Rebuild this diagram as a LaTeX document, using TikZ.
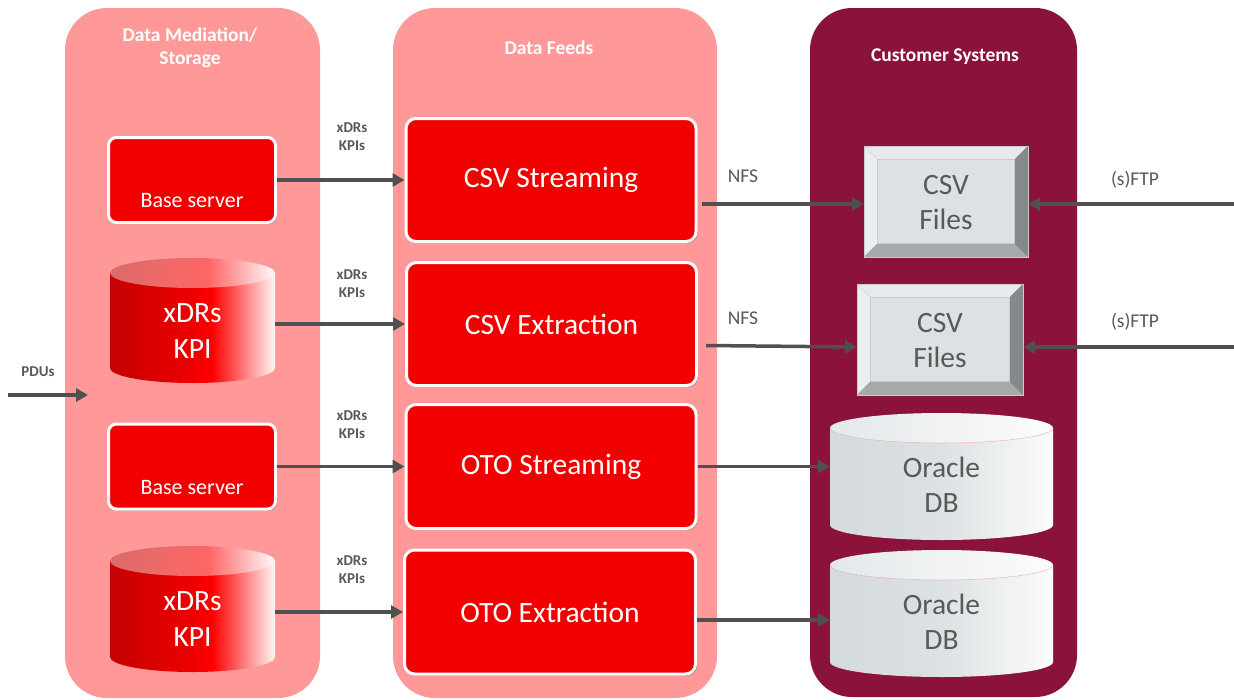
\documentclass[tikz,border=0pt]{standalone}
\usepackage{fontspec}
\setmainfont{Carlito}
\usetikzlibrary{arrows.meta,shadows,calc}
\definecolor{pnk}{RGB}{255,153,153}
\definecolor{maroonc}{RGB}{139,19,58}
\definecolor{boxred}{RGB}{242,0,0}
\definecolor{arr}{RGB}{80,80,80}
\definecolor{txtgray}{RGB}{89,89,89}
\definecolor{rcA}{RGB}{196,0,0}
\definecolor{rcB}{RGB}{238,0,0}
\definecolor{rcC}{RGB}{255,0,0}
\definecolor{rcD}{RGB}{255,246,246}
\definecolor{rtA}{RGB}{218,108,108}
\definecolor{rtB}{RGB}{255,102,102}
\definecolor{rtC}{RGB}{255,250,250}
\definecolor{ocA}{RGB}{212,218,221}
\definecolor{ocB}{RGB}{220,225,227}
\definecolor{ocC}{RGB}{252,252,252}
\definecolor{otA}{RGB}{228,232,234}
\definecolor{otB}{RGB}{252,252,252}
\definecolor{bvface}{RGB}{220,225,227}
\definecolor{bvtop}{RGB}{230,234,236}
\definecolor{bvleft}{RGB}{236,239,240}
\definecolor{bvright}{RGB}{132,137,137}
\definecolor{bvbot}{RGB}{166,170,170}
\definecolor{bvline}{RGB}{205,200,208}
\pgfdeclarehorizontalshading{redbody}{100bp}{color(0bp)=(rcA); color(25bp)=(rcA); color(50bp)=(rcB); color(56bp)=(rcC); color(75bp)=(rcD); color(100bp)=(rcD)}
\pgfdeclarehorizontalshading{redtop}{100bp}{color(0bp)=(rtA); color(25bp)=(rtA); color(55bp)=(rtB); color(75bp)=(rtC); color(100bp)=(rtC)}
\pgfdeclarehorizontalshading{orabody}{100bp}{color(0bp)=(ocA); color(25bp)=(ocA); color(50bp)=(ocB); color(75bp)=(ocC); color(100bp)=(ocC)}
\pgfdeclarehorizontalshading{oratop}{100bp}{color(0bp)=(otA); color(25bp)=(otA); color(75bp)=(otB); color(100bp)=(otB)}
% cylinder: cx, top, bottom, rx, body shading, top shading
\newcommand\mycyl[6]{%
  \shade[shading=#5] (#1-#4,#2+15) -- (#1-#4,#3-15) arc[start angle=180,end angle=360,x radius=#4pt,y radius=15pt] -- (#1+#4,#2+15) -- cycle;
  \shade[shading=#6] (#1,#2+15) ellipse[x radius=#4pt,y radius=15pt];
}
% bevel box: x1,y1,x2,y2
\newcommand\mybevel[4]{%
  \fill[bvface] (#1+13.5,#2+13.5) rectangle (#3-13.5,#4-13.5);
  \fill[bvtop] (#1,#2) -- (#3,#2) -- (#3-13.5,#2+13.5) -- (#1+13.5,#2+13.5) -- cycle;
  \fill[bvleft] (#1,#2) -- (#1+13.5,#2+13.5) -- (#1+13.5,#4-13.5) -- (#1,#4) -- cycle;
  \fill[bvright] (#3,#2) -- (#3,#4) -- (#3-13.5,#4-13.5) -- (#3-13.5,#2+13.5) -- cycle;
  \fill[bvbot] (#1,#4) -- (#3,#4) -- (#3-13.5,#4-13.5) -- (#1+13.5,#4-13.5) -- cycle;
  \draw[bvline,line width=0.6pt] (#1,#2) rectangle (#3,#4) (#1+13.5,#2+13.5) rectangle (#3-13.5,#4-13.5);
}
\begin{document}
\begin{tikzpicture}[x=1pt,y=-1pt,
  panel/.style={rounded corners=42pt},
  bigbox/.style={draw=white, line width=3pt, fill=boxred, rounded corners=10pt,
    drop shadow={shadow xshift=1.5pt, shadow yshift=-1.5pt, opacity=0.35, fill=black},
    text=white, font=\fontsize{29.5}{34}\selectfont, inner sep=0pt},
  smallbox/.style={draw=white, line width=3pt, fill=boxred, rounded corners=8pt,
    drop shadow={shadow xshift=1.5pt, shadow yshift=-1.5pt, opacity=0.35, fill=black},
    inner sep=0pt, minimum width=167pt, minimum height=85pt},
  shape holder/.style={inner sep=0pt, align=center},
  head/.style={text=white, font=\bfseries\fontsize{19.5}{23}\selectfont, align=center},
  flowlab/.style={text=txtgray, font=\bfseries\fontsize{15}{18}\selectfont, align=center},
  netlab/.style={text=txtgray, font=\fontsize{19.5}{23}\selectfont},
  bigtxt/.style={font=\fontsize{29.5}{35}\selectfont, align=center},
  conn/.style={draw=arr, line width=3.5pt, -{Triangle[length=12pt,width=13pt]}}
]
\useasboundingbox (0,0) rectangle (1234,699);
\fill[white] (0,0) rectangle (1234,699);
% panels
\fill[pnk,panel] (65,8) rectangle (320,698);
\fill[pnk,panel] (393,8) rectangle (717,698);
\fill[maroonc,panel] (810,8) rectangle (1077,697);
% headers
\node[head] (h1) at (190,47.5) {Data Mediation/\\Storage};
\node[head] (h2) at (549,48) {Data Feeds};
\node[head] (h3) at (945,57) {Customer Systems};
% base servers
\node[smallbox] (base1) at (192,180) {};
\node[text=white, font=\fontsize{22}{25}\selectfont] (bt1) at ([yshift=23pt]base1.south) {Base server};
\node[smallbox] (base2) at (192,466.5) {};
\node[text=white, font=\fontsize{22}{25}\selectfont] (bt2) at ([yshift=23pt]base2.south) {Base server};
% red cylinders
\mycyl{192.5}{258}{383}{82.5}{redbody}{redtop}
\node[shape holder, minimum width=165pt, minimum height=125pt] (cyl1) at (192.5,320.5) {};
\node[text=white, bigtxt, font=\fontsize{29.5}{36}\selectfont] (ct1) at (192.5,331) {xDRs\\KPI};
\mycyl{192.5}{546}{672}{82.5}{redbody}{redtop}
\node[shape holder, minimum width=165pt, minimum height=126pt] (cyl2) at (192.5,609) {};
\node[text=white, bigtxt, font=\fontsize{29.5}{36}\selectfont] (ct2) at (192.5,619) {xDRs\\KPI};
% data feed boxes
\node[bigbox, minimum width=290pt, minimum height=123pt] (csvs) at (551,180) {CSV Streaming};
\node[bigbox, minimum width=290pt, minimum height=123pt] (csve) at (551.5,324) {CSV Extraction};
\node[bigbox, minimum width=290pt, minimum height=124pt] (otos) at (551,466.5) {OTO Streaming};
\node[bigbox, minimum width=291pt, minimum height=124pt] (otoe) at (550,612) {OTO Extraction};
% CSV files
\mybevel{864}{146}{1028}{257}
\node[shape holder, minimum width=164pt, minimum height=111pt] (files1) at (946,201.5) {};
\node[text=txtgray, bigtxt] (ft1) at (946,203) {CSV\\Files};
\mybevel{857}{284}{1023}{395}
\node[shape holder, minimum width=166pt, minimum height=111pt] (files2) at (940,339.5) {};
\node[text=txtgray, bigtxt] (ft2) at (940,341) {CSV\\Files};
% Oracle DBs
\mycyl{941.5}{413}{540}{111.5}{orabody}{oratop}
\draw[rtA!60, line width=0.5pt, dash pattern=on 3pt off 1pt] (941.5-111.5,428) arc[start angle=180,end angle=360,x radius=111.5pt,y radius=15pt];
\node[shape holder, minimum width=223pt, minimum height=127pt] (ora1) at (941.5,476.5) {};
\node[text=txtgray, bigtxt] (ot1) at (941.5,485) {Oracle\\DB};
\mycyl{941.5}{550}{677}{111.5}{orabody}{oratop}
\draw[rtA!60, line width=0.5pt, dash pattern=on 3pt off 1pt] (941.5-111.5,565) arc[start angle=180,end angle=360,x radius=111.5pt,y radius=15pt];
\node[shape holder, minimum width=223pt, minimum height=127pt] (ora2) at (941.5,613.5) {};
\node[text=txtgray, bigtxt] (ot2) at (941.5,622) {Oracle\\DB};
% labels
\node[flowlab] (l1) at (352,137) {xDRs\\KPIs};
\node[flowlab] (l2) at (352,284) {xDRs\\KPIs};
\node[flowlab] (l3) at (352,425) {xDRs\\KPIs};
\node[flowlab] (l4) at (352,570) {xDRs\\KPIs};
\node[netlab] (n1) at (743,176) {NFS};
\node[netlab] (n2) at (743,318) {NFS};
\node[netlab] (f1) at (1135,180) {(s)FTP};
\node[netlab] (f2) at (1135,322) {(s)FTP};
\node[flowlab] (pdu) at (38,372) {PDUs};
% coordinates for free ends
\coordinate (pduA) at (8,395);
\coordinate (pduB) at (88,395);
\coordinate (ftpA) at (1234,204);
\coordinate (ftpB) at (1234,347);
% connectors
\draw[conn] (pduA) -- (pduB);
\draw[conn] (base1.east) -- (base1.east -| csvs.west);
\draw[conn] (csve.west -| cyl1.east) -- (csve.west);
\draw[conn] (base2.east) -- (base2.east -| otos.west);
\draw[conn] (otoe.west -| cyl2.east) -- (otoe.west);
\draw[conn] ($(csvs.east |- files1.west)+(4,2.5)$) -- ($(files1.west)+(0,2.5)$);
\draw[conn] ($(csve.east |- files2.west)+(8,6)$) -- ($(files2.west)+(0,7.5)$);
\draw[conn] (otos.east) -- (otos.east -| ora1.west);
\draw[conn] ($(otoe.east)+(0,8)$) -- ($(otoe.east -| ora2.west)+(0,8)$);
\draw[conn] (ftpA) -- (ftpA -| files1.east);
\draw[conn] (ftpB) -- (ftpB -| files2.east);
\end{tikzpicture}
\end{document}
